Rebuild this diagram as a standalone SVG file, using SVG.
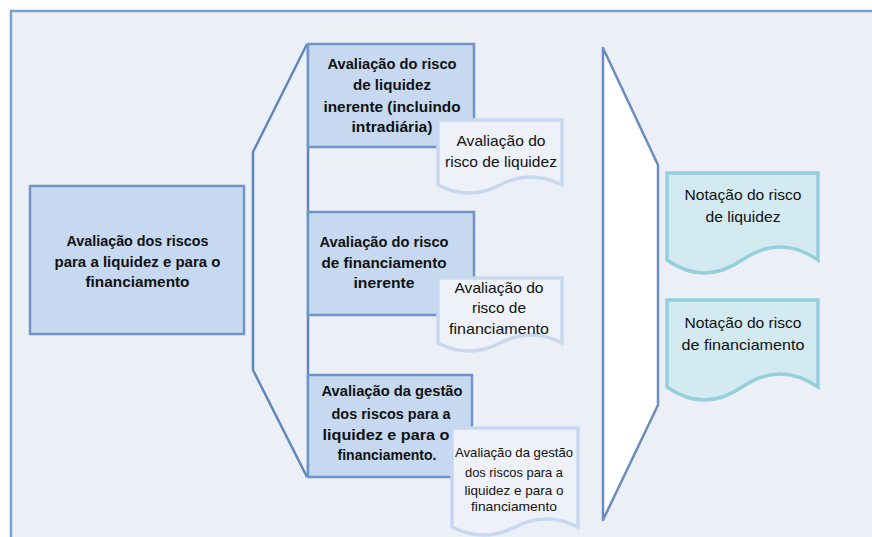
<svg xmlns="http://www.w3.org/2000/svg" width="872" height="537" viewBox="0 0 872 537">
<style>
.frame{fill:#ECF0F6;stroke:#7FA0CC;stroke-width:2.5}
.box{fill:#C6D9F0;stroke:#6F94C6;stroke-width:2.5}
.line{fill:none;stroke:#5F87BF;stroke-width:2.5}
.wedge{fill:#FFFFFF;stroke:#6A8CC0;stroke-width:2.5;stroke-linejoin:round}
.sdoc{fill:#EEF2F8;stroke:#C6D9F0;stroke-width:3.5}
.rdoc{fill:#D3EAF0;stroke:#95CFDC;stroke-width:3.5}
text{font-family:"Liberation Sans",Arial,sans-serif;fill:#111111;text-anchor:middle}
.b{font-weight:bold;font-size:15px}
.t{font-size:15px}
.ts{font-size:13px}
</style>
<rect class="frame" x="11" y="11" width="900" height="600"/>
<g id="connectors">
<path class="line" d="M307,44 L253,152 L253,370 L307,477"/>
<path class="line" d="M308,44 L308,477"/>
<polygon id="wedge" class="wedge" points="603,48 658,165 658,405 603,520"/>
</g>
<g id="node-main">
<rect class="box" x="30" y="186" width="214" height="148"/>
<text class="b" x="137.5" y="246" textLength="142" lengthAdjust="spacingAndGlyphs">Avaliação dos riscos</text>
<text class="b" x="137.5" y="267" textLength="166" lengthAdjust="spacingAndGlyphs">para a liquidez e para o</text>
<text class="b" x="137.5" y="287" textLength="104" lengthAdjust="spacingAndGlyphs">financiamento</text>
</g>
<g id="node-liquidez">
<rect class="box" x="308" y="44" width="166" height="103"/>
<text class="b" x="392" y="69" textLength="129" lengthAdjust="spacingAndGlyphs">Avaliação do risco</text>
<text class="b" x="392" y="90" textLength="78" lengthAdjust="spacingAndGlyphs">de liquidez</text>
<text class="b" x="392" y="112" textLength="137" lengthAdjust="spacingAndGlyphs">inerente (incluindo</text>
<text class="b" x="392" y="132" textLength="81" lengthAdjust="spacingAndGlyphs">intradiária)</text>
</g>
<g id="node-financiamento">
<rect class="box" x="308" y="212" width="166" height="103"/>
<text class="b" x="384" y="247" textLength="129" lengthAdjust="spacingAndGlyphs">Avaliação do risco</text>
<text class="b" x="384" y="268" textLength="125" lengthAdjust="spacingAndGlyphs">de financiamento</text>
<text class="b" x="384" y="288" textLength="61" lengthAdjust="spacingAndGlyphs">inerente</text>
</g>
<g id="node-gestao">
<rect class="box" x="308" y="375" width="164" height="102"/>
<text class="b" x="392" y="396" textLength="141" lengthAdjust="spacingAndGlyphs">Avaliação da gestão</text>
<text class="b" x="391" y="419" textLength="119" lengthAdjust="spacingAndGlyphs">dos riscos para a</text>
<text class="b" x="386" y="440" textLength="127" lengthAdjust="spacingAndGlyphs">liquidez e para o</text>
<text class="b" x="387" y="460" textLength="99" lengthAdjust="spacingAndGlyphs">financiamento.</text>
</g>
<g id="doc-liquidez">
<path class="sdoc" d="M438,120 H562 V185 Q531,169 500,185 T438,185 Z"/>
<text class="t" x="501" y="146" textLength="89" lengthAdjust="spacingAndGlyphs">Avaliação do</text>
<text class="t" x="501" y="167" textLength="112" lengthAdjust="spacingAndGlyphs">risco de liquidez</text>
</g>
<g id="doc-financiamento">
<path class="sdoc" d="M438,278 H562 V343 Q531,327 500,343 T438,343 Z"/>
<text class="t" x="499" y="293" textLength="89" lengthAdjust="spacingAndGlyphs">Avaliação do</text>
<text class="t" x="499" y="313" textLength="54" lengthAdjust="spacingAndGlyphs">risco de</text>
<text class="t" x="499" y="334" textLength="100" lengthAdjust="spacingAndGlyphs">financiamento</text>
</g>
<g id="doc-gestao">
<path class="sdoc" d="M452,428 H578 V527 Q546,511 515,527 T452,527 Z"/>
<text class="ts" x="514" y="457" textLength="118" lengthAdjust="spacingAndGlyphs">Avaliação da gestão</text>
<text class="ts" x="514" y="477" textLength="98" lengthAdjust="spacingAndGlyphs">dos riscos para a</text>
<text class="ts" x="514" y="495" textLength="99" lengthAdjust="spacingAndGlyphs">liquidez e para o</text>
<text class="ts" x="514" y="511" textLength="86" lengthAdjust="spacingAndGlyphs">financiamento</text>
</g>
<g id="rating-liquidez">
<path class="rdoc" d="M667,173 H818 V260 Q780,234 742,260 T667,260 Z"/>
<text class="t" x="743" y="200" textLength="117" lengthAdjust="spacingAndGlyphs">Notação do risco</text>
<text class="t" x="743" y="222" textLength="75" lengthAdjust="spacingAndGlyphs">de liquidez</text>
</g>
<g id="rating-financiamento">
<path class="rdoc" d="M667,300 H818 V387 Q780,361 742,387 T667,387 Z"/>
<text class="t" x="743" y="328" textLength="117" lengthAdjust="spacingAndGlyphs">Notação do risco</text>
<text class="t" x="743" y="350" textLength="123" lengthAdjust="spacingAndGlyphs">de financiamento</text>
</g>
</svg>
